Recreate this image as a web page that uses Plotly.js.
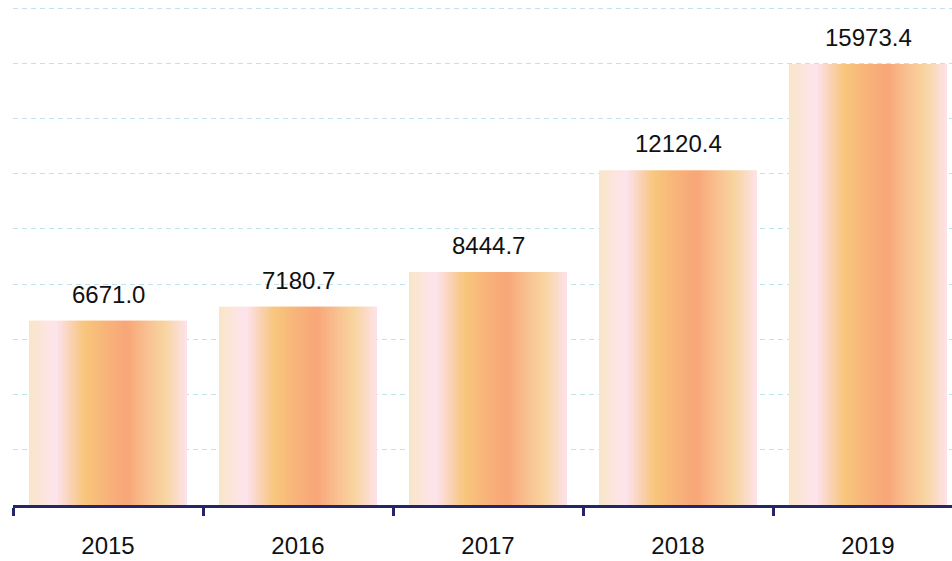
<!DOCTYPE html>
<html>
<head>
<meta charset="utf-8">
<script src="https://cdn.plot.ly/plotly-3.0.1.min.js"></script>
<style>
html,body{margin:0;padding:0;overflow:hidden;background:#fff;}
#chart{width:963px;height:561px;}
</style>
</head>
<body>
<div id="chart"></div>
<script>
const years = ["2015", "2016", "2017", "2018", "2019"];
const values = [6671.0, 7180.7, 8444.7, 12120.4, 15973.4];
const labels = ["6671.0", "7180.7", "8444.7", "12120.4", "15973.4"];

// horizontal gradient stops across each bar (position, colour)
const gradStops = [
  [0.00, [249, 230, 200]],
  [0.17, [253, 228, 238]],
  [0.26, [250, 210, 182]],
  [0.35, [248, 198, 124]],
  [0.50, [248, 178, 122]],
  [0.62, [248, 166, 120]],
  [0.75, [248, 192, 144]],
  [0.86, [248, 212, 160]],
  [1.00, [253, 226, 234]]
];
function colorAt(t) {
  for (let k = 0; k < gradStops.length - 1; k++) {
    const a = gradStops[k], b = gradStops[k + 1];
    if (t >= a[0] && t <= b[0]) {
      const f = (t - a[0]) / (b[0] - a[0]);
      const c = a[1].map((v, j) => Math.round(v + (b[1][j] - v) * f));
      return 'rgb(' + c.join(',') + ')';
    }
  }
  return 'rgb(' + gradStops[gradStops.length - 1][1].join(',') + ')';
}

const barW = 158 / 190;
const N = 60;
const sw = barW / N;
const traces = [];
for (let i = 0; i < N; i++) {
  const last = (i === N - 1);
  traces.push({
    type: 'bar',
    x: years,
    y: values,
    width: last ? sw : sw * 2,
    offset: -barW / 2 + i * sw,
    marker: {color: colorAt((i + 0.5) / N), line: {width: 0}},
    hoverinfo: 'skip',
    showlegend: false
  });
}

const annotations = years.map((y, i) => ({
  x: i, y: values[i], xref: 'x', yref: 'y',
  text: labels[i], showarrow: false, yanchor: 'bottom', yshift: 11,
  font: {family: 'Liberation Sans, Arial, sans-serif', size: 24, color: '#111111'}
}));

const layout = {
  width: 963, height: 561,
  margin: {l: 13, r: 0, t: 7, b: 56},
  paper_bgcolor: '#ffffff', plot_bgcolor: '#ffffff',
  barmode: 'overlay',
  showlegend: false,
  xaxis: {
    type: 'category',
    categoryorder: 'array', categoryarray: years,
    range: [-0.5, 4.5], autorange: false,
    showline: true, linecolor: '#25256a', linewidth: 3,
    ticks: 'outside', tickson: 'boundaries', ticklen: 8, tickwidth: 3, tickcolor: '#25256a',
    showgrid: false, zeroline: false,
    ticklabelstandoff: 17,
    tickfont: {family: 'Liberation Sans, Arial, sans-serif', size: 24, color: '#111111'}
  },
  yaxis: {
    range: [0, 18040], autorange: false, tickvals: [2000, 4000, 6000, 8000, 10000, 12000, 14000, 16000, 18000],
    showticklabels: false, ticks: '', zeroline: false, showline: false,
    showgrid: true, gridcolor: '#bfe3ea', gridwidth: 1, griddash: '5px,4px'
  },
  annotations: annotations
};

Plotly.newPlot('chart', traces, layout, {displayModeBar: false, staticPlot: true});
</script>
</body>
</html>
